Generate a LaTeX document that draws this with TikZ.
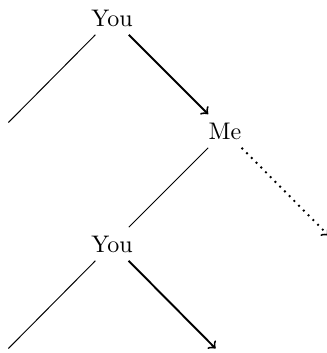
\documentclass[tikz,border=0pt]{standalone}
\begin{document}
\begin{tikzpicture}[x=0.41667pt,y=-0.41667pt,
  lbl/.style={inner sep=3.3333pt},
  leaf/.style={inner sep=3.3333pt},
  plain/.style={draw},
  move/.style={->, thick},
  hint/.style={->, thick, dotted}]
\useasboundingbox (0,0) rectangle (327,353);
\node[lbl] (r) at (112,18) {You};
\node[lbl] (m) at (225,131) {Me};
\node[lbl] (y) at (112,244) {You};
\node[leaf] (l1) at (0,131) {};
\node[leaf] (l2) at (337,244) {};
\node[leaf] (l3) at (0,357) {};
\node[leaf] (l4) at (224,357) {};
\draw[plain] (r) -- (l1);
\draw[move] (r) -- (m);
\draw[plain] (m) -- (y);
\draw[hint] (m) -- (l2);
\draw[plain] (y) -- (l3);
\draw[move] (y) -- (l4);
\end{tikzpicture}
\end{document}
